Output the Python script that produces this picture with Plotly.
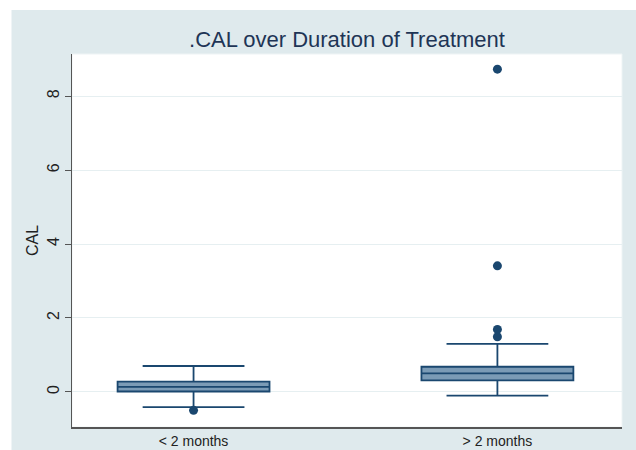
import plotly.graph_objects as go

groups = ["< 2 months", "> 2 months"]
q1 = [0.01, 0.31]
median = [0.135, 0.50]
q3 = [0.28, 0.68]
lowerfence = [-0.41, -0.10]
upperfence = [0.70, 1.30]
outlier_group = [0, 1, 1, 1, 1]
outlier_vals = [-0.50, 1.49, 1.69, 3.41, 8.73]
yticks = [0, 2, 4, 6, 8]

navy = "#1a476f"
fig = go.Figure()
fig.add_trace(go.Box(
    x=[0, 1], q1=q1, median=median, q3=q3,
    lowerfence=lowerfence, upperfence=upperfence,
    width=0.5, whiskerwidth=0.67,
    fillcolor="#7b9bb6", line=dict(color=navy, width=1.8),
    boxpoints=False, showlegend=False, hoverinfo="skip"))
fig.add_trace(go.Scatter(
    x=outlier_group, y=outlier_vals, mode="markers",
    marker=dict(color=navy, size=9), showlegend=False, hoverinfo="skip"))

# panel background
fig.add_shape(type="rect", xref="paper", yref="paper",
              x0=-0.11, x1=1.04, y0=-0.07, y1=1.118,
              fillcolor="#dfeaed", line=dict(width=0), layer="below")
fig.add_shape(type="rect", xref="paper", yref="paper",
              x0=0, x1=1, y0=0, y1=1,
              fillcolor="white", line=dict(width=1, color="#eef4f5"), layer="below")

fig.update_layout(
    width=636, height=450,
    margin=dict(l=72, r=14, t=54, b=23, autoexpand=False),
    paper_bgcolor="white", plot_bgcolor="rgba(0,0,0,0)",
    font=dict(family="Liberation Sans, Arial, sans-serif", color="#222"),
    title=dict(text=".CAL over Duration of Treatment", x=0.5, xref="paper",
               y=0.912, yanchor="middle",
               font=dict(size=22, color="#1e3556")),
    xaxis=dict(range=[-0.4, 1.41], tickvals=[0, 1], ticktext=groups,
               automargin=False,
               showgrid=False, zeroline=False, showline=True,
               linecolor="#555", linewidth=1.5, ticks="",
               tickfont=dict(size=14, color="#222")),
    yaxis=dict(range=[-0.95, 9.14], tickvals=yticks, tickangle=-90,
               automargin=False,
               showgrid=True, gridcolor="#e6eff1", gridwidth=1,
               zeroline=False, showline=True, linecolor="#555", linewidth=1.2,
               ticks="outside", ticklen=6, tickcolor="#555",
               tickfont=dict(size=16, color="#222"),
               title=dict(text="CAL", standoff=1, font=dict(size=16, color="#222"))),
)
fig.write_html("out.html", config={"displayModeBar": False},
               post_script="document.body.style.margin='0';")
